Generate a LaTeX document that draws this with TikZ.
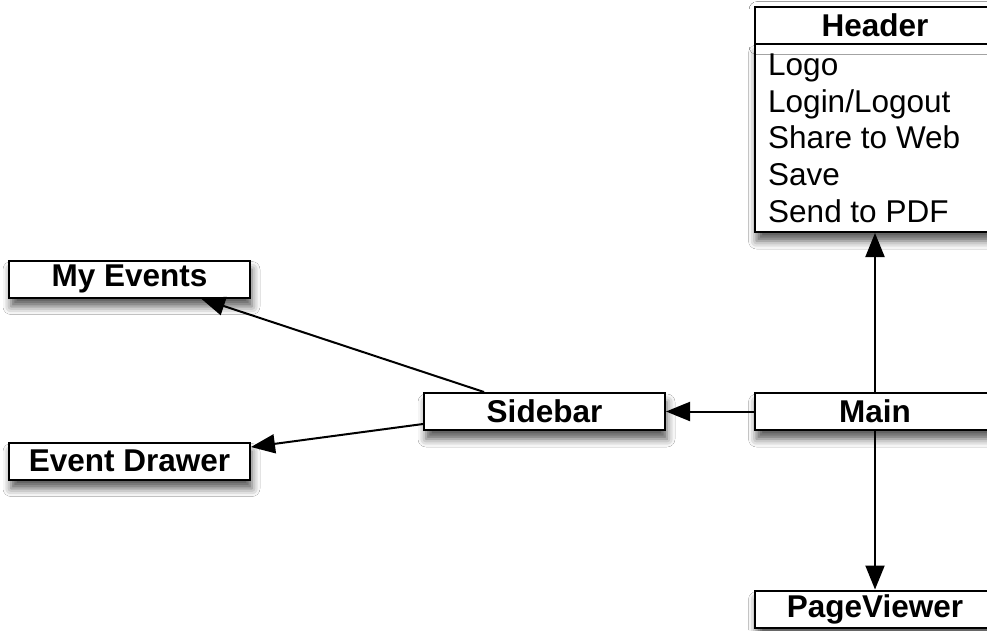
\documentclass[tikz,border=0pt]{standalone}
\usepackage{fontspec}
\setmainfont{Liberation Sans}
\usetikzlibrary{arrows.meta,shadows.blur,calc}
\tikzset{
  box/.style={draw=black, line width=2pt, fill=white, minimum width=241pt, minimum height=37pt, inner sep=0pt,
    blur shadow={shadow xshift=2pt, shadow yshift=-9pt, shadow blur radius=8pt, shadow opacity=65},
    font=\fontsize{31.5}{37}\selectfont\bfseries},
  plain/.style={draw=none, fill=none, inner sep=0pt, font=\fontsize{31.5}{37}\selectfont},
  conn/.style={line width=2pt, -{Triangle[length=24pt, width=19pt]}, shorten >=0pt}
}
\begin{document}
\begin{tikzpicture}[x=1pt, y=-1pt]
\useasboundingbox (0,0) rectangle (987,630);
\clip (0,0) rectangle (987,630);
\fill[white] (0,0) rectangle (987,630);
% header
\node[box, minimum height=188pt] (hbody) at (875,138) {};
\node[box, blur shadow={shadow opacity=0}] (htitle) at (875,25.5) {Header};
\node[plain, anchor=base west] (l1) at (768,75) {Logo};
\node[plain, anchor=base west] (l2) at (768,112) {Login/Logout};
\node[plain, anchor=base west] (l3) at (768,148.5) {Share to Web};
\node[plain, anchor=base west] (l4) at (768,185) {Save};
\node[plain, anchor=base west] (l5) at (768,222) {Send to PDF};
% others
\node[box] (myev) at (129.5,279) {My Events};
\node[box] (evd) at (129.5,461) {Event Drawer};
\node[box] (side) at (544.5,411.5) {Sidebar};
\node[box] (main) at (875,411.5) {Main};
\node[box] (pv) at (875,609) {PageViewer};
% connectors
\draw[conn] (main.north) -- (hbody.south);
\draw[conn] (main.south) -- (pv.north);
\draw[conn] (main.west) -- (side.east);
\draw[conn] ([xshift=61pt]side.north west) -- ([xshift=-50pt]myev.south east);
\draw[conn] ([yshift=7pt]side.south west) -- ([yshift=14pt]evd.east);
\end{tikzpicture}
\end{document}
